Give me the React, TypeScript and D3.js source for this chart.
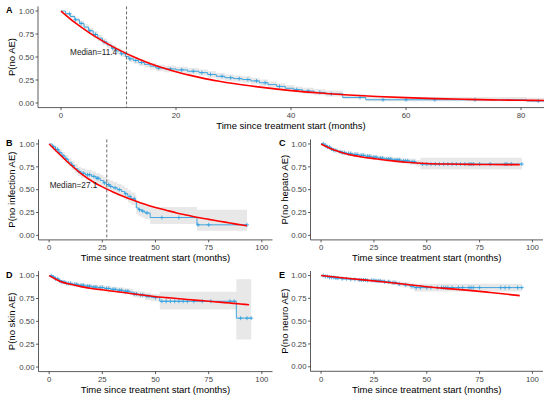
import React from 'react';
import * as d3 from 'd3';

// [time, survival, lower CI, upper CI]
type Row = [number, number, number, number];
type Pt = [number, number];

const kmA: Row[] = [
  [0, 1, 1, 1], [0.8, 0.97, 0.955, 0.985], [1.6, 0.94, 0.92, 0.96], [2.4, 0.905, 0.88, 0.93],
  [3.2, 0.865, 0.835, 0.895], [4, 0.825, 0.795, 0.855], [4.8, 0.785, 0.755, 0.815], [5.6, 0.745, 0.71, 0.78],
  [6.4, 0.705, 0.67, 0.74], [7.2, 0.665, 0.63, 0.7], [8, 0.63, 0.595, 0.665], [8.8, 0.595, 0.56, 0.63],
  [9.6, 0.565, 0.53, 0.6], [10.4, 0.535, 0.5, 0.57], [11.2, 0.505, 0.47, 0.54], [11.8, 0.48, 0.445, 0.515],
  [12.6, 0.462, 0.427, 0.497], [13.5, 0.44, 0.405, 0.475], [14.5, 0.42, 0.385, 0.455], [15.5, 0.4, 0.365, 0.435],
  [16.5, 0.38, 0.345, 0.415], [18, 0.37, 0.335, 0.405], [20, 0.36, 0.325, 0.395], [22, 0.345, 0.31, 0.38],
  [24, 0.33, 0.295, 0.365], [25.5, 0.31, 0.275, 0.345], [27, 0.29, 0.255, 0.325], [28.5, 0.275, 0.24, 0.31],
  [30, 0.265, 0.23, 0.3], [31.5, 0.255, 0.22, 0.29], [33, 0.24, 0.205, 0.275], [34.5, 0.22, 0.185, 0.255],
  [36, 0.2, 0.165, 0.235], [37.5, 0.18, 0.145, 0.215], [39, 0.16, 0.13, 0.195], [40.5, 0.145, 0.115, 0.18],
  [42, 0.13, 0.1, 0.165], [44, 0.115, 0.085, 0.15], [46, 0.1, 0.07, 0.135], [49, 0.06, 0.04, 0.095],
  [53, 0.035, 0.018, 0.065], [81, 0.022, 0.008, 0.058], [84, 0.022, 0.008, 0.058],
];
const censA = [1.5, 2.5, 3.5, 5, 6, 7.5, 9, 10.5, 12, 13, 14, 17, 19, 21, 23, 24.5, 26, 28, 29.5, 31, 32.5, 34, 35.5, 38, 41, 43, 45, 47, 52, 56, 60, 65, 72, 83];
const fitA: Pt[] = [
  [0, 1], [2.5, 0.87], [5, 0.76], [7.5, 0.665], [10, 0.58], [12.5, 0.505], [15, 0.44], [17.5, 0.385],
  [20, 0.34], [22.5, 0.3], [25, 0.265], [27.5, 0.237], [30, 0.212], [35, 0.17], [40, 0.135], [45, 0.108],
  [50, 0.087], [55, 0.071], [60, 0.058], [65, 0.048], [70, 0.04], [75, 0.034], [80, 0.03], [84, 0.027],
];

const kmB: Row[] = [
  [0, 1, 1, 1], [1.5, 0.97, 0.95, 0.99], [3, 0.94, 0.91, 0.97], [4.5, 0.905, 0.87, 0.94],
  [6, 0.87, 0.83, 0.91], [7.5, 0.835, 0.79, 0.88], [9, 0.8, 0.755, 0.845], [10.5, 0.765, 0.715, 0.815],
  [12, 0.73, 0.68, 0.78], [13.5, 0.7, 0.65, 0.75], [15, 0.68, 0.63, 0.735], [17, 0.663, 0.608, 0.718],
  [20, 0.645, 0.59, 0.7], [22, 0.625, 0.57, 0.68], [24, 0.6, 0.545, 0.66], [25.5, 0.575, 0.52, 0.635],
  [27, 0.555, 0.495, 0.615], [28.5, 0.535, 0.475, 0.6], [30, 0.52, 0.46, 0.585], [32, 0.5, 0.435, 0.565],
  [34, 0.48, 0.415, 0.545], [35.5, 0.455, 0.39, 0.52], [37, 0.425, 0.36, 0.495], [38.5, 0.4, 0.335, 0.47],
  [40.5, 0.37, 0.3, 0.44], [41, 0.3, 0.23, 0.38], [42, 0.28, 0.21, 0.36], [43.5, 0.265, 0.195, 0.345],
  [45, 0.245, 0.175, 0.325], [47.5, 0.195, 0.125, 0.31], [69.5, 0.115, 0.05, 0.28], [93, 0.115, 0.05, 0.28],
];
const censB = [2, 3, 4, 5, 6.5, 8, 11, 14, 16, 18, 19, 21, 22.5, 23, 26, 28, 29, 31, 33, 36, 38, 40, 42.5, 44, 46, 53, 61, 70, 75, 93];
const fitB: Pt[] = [
  [0, 1], [5, 0.885], [10, 0.775], [15, 0.675], [20, 0.595], [25, 0.53], [30, 0.475], [35, 0.425],
  [40, 0.38], [45, 0.34], [50, 0.305], [55, 0.275], [60, 0.245], [65, 0.22], [70, 0.195], [75, 0.175],
  [80, 0.155], [85, 0.135], [90, 0.115], [93, 0.105],
];

const kmC: Row[] = [
  [0, 1, 1, 1], [1.5, 0.985, 0.975, 0.995], [3, 0.965, 0.95, 0.98], [4.5, 0.945, 0.93, 0.96],
  [6, 0.93, 0.91, 0.95], [8, 0.915, 0.895, 0.935], [10, 0.905, 0.885, 0.925], [12, 0.895, 0.873, 0.917],
  [15, 0.885, 0.862, 0.908], [18, 0.875, 0.85, 0.9], [21, 0.865, 0.84, 0.89], [24, 0.855, 0.83, 0.88],
  [27, 0.845, 0.818, 0.872], [30, 0.835, 0.807, 0.863], [34, 0.825, 0.795, 0.855], [38, 0.815, 0.785, 0.845],
  [42, 0.805, 0.773, 0.837], [45, 0.79, 0.755, 0.825], [47, 0.78, 0.72, 0.85], [95, 0.78, 0.72, 0.85],
];
const censC = [1, 2, 3, 4, 5, 6, 7, 9, 10, 11, 13, 14, 16, 17, 19, 20, 22, 23, 25, 26, 28, 29, 31, 32, 33, 35, 36, 37, 39, 40, 41, 43, 44, 48, 50, 52, 54, 56, 58, 60, 62, 64, 66, 68, 70, 71, 72, 75, 80, 87, 88, 90, 95];
const fitC: Pt[] = [
  [0, 1], [5, 0.945], [10, 0.905], [15, 0.875], [20, 0.855], [25, 0.84], [30, 0.825], [35, 0.812],
  [40, 0.8], [45, 0.792], [50, 0.786], [60, 0.78], [70, 0.777], [80, 0.775], [94, 0.774],
];

const kmD: Row[] = [
  [0, 1, 1, 1], [1.5, 0.985, 0.975, 0.995], [3, 0.965, 0.95, 0.98], [4.5, 0.945, 0.928, 0.962],
  [6, 0.93, 0.91, 0.95], [8, 0.915, 0.895, 0.935], [11, 0.905, 0.883, 0.927], [14, 0.895, 0.872, 0.918],
  [17, 0.885, 0.86, 0.91], [20, 0.875, 0.848, 0.902], [23, 0.87, 0.842, 0.898], [26, 0.86, 0.83, 0.89],
  [29, 0.85, 0.82, 0.88], [32, 0.84, 0.808, 0.872], [35, 0.83, 0.797, 0.863], [38, 0.82, 0.785, 0.855],
  [39.5, 0.8, 0.765, 0.835], [42, 0.79, 0.752, 0.828], [45, 0.775, 0.735, 0.815], [48, 0.76, 0.72, 0.8],
  [52, 0.72, 0.63, 0.825], [88, 0.535, 0.3, 0.96], [95, 0.535, 0.3, 0.96],
];
const censD = [1, 2, 3, 4, 5, 6, 7, 8, 9, 10, 12, 13, 15, 16, 18, 19, 21, 22, 24, 25, 27, 28, 30, 31, 33, 34, 36, 37, 40, 41, 43, 44, 46, 47, 50, 53, 55, 57, 59, 61, 63, 65, 68, 72, 76, 85, 87, 90, 93, 95];
const fitD: Pt[] = [
  [0, 1], [5, 0.94], [10, 0.905], [15, 0.88], [20, 0.86], [25, 0.845], [30, 0.83], [35, 0.815],
  [40, 0.8], [45, 0.785], [50, 0.77], [55, 0.76], [60, 0.75], [65, 0.74], [70, 0.73], [75, 0.72],
  [80, 0.71], [85, 0.7], [90, 0.69], [94, 0.682],
];

const kmE: Row[] = [
  [0, 1, 1, 1], [2, 0.99, 0.983, 0.997], [4, 0.98, 0.97, 0.99], [7, 0.972, 0.96, 0.984],
  [10, 0.965, 0.952, 0.978], [14, 0.958, 0.943, 0.973], [18, 0.952, 0.935, 0.969], [22, 0.947, 0.929, 0.965],
  [26, 0.942, 0.922, 0.962], [30, 0.932, 0.91, 0.954], [33, 0.922, 0.897, 0.947], [36, 0.908, 0.881, 0.935],
  [39, 0.898, 0.87, 0.926], [42, 0.883, 0.85, 0.915], [44, 0.868, 0.825, 0.91], [95, 0.868, 0.825, 0.91],
];
const censE = [1, 2, 3, 4, 5, 6, 7, 8, 10, 12, 14, 16, 18, 19, 20, 21, 22, 24, 25, 26, 27, 28, 30, 32, 34, 35, 37, 40, 43, 45, 47, 50, 52, 55, 57, 58, 59, 60, 62, 65, 67, 70, 71, 72, 75, 85, 87, 89, 93, 95];
const fitE: Pt[] = [
  [0, 1], [10, 0.976], [20, 0.953], [30, 0.929], [40, 0.904], [50, 0.878], [60, 0.857], [70, 0.838],
  [80, 0.815], [94, 0.78],
];

const medianA = 11.4;
const medianB = 27.1;
const yTicks = [0, 0.25, 0.5, 0.75, 1];
const xTicksA = [0, 20, 40, 60, 80];
const xTicksB = [0, 25, 50, 75, 100];

const FONT = '"Liberation Sans", Arial, Helvetica, sans-serif';
const BLUE = '#2E9FDF';

interface Box { l: number; r: number; t: number; b: number; }

interface PanelProps {
  letter: string;
  box: Box;
  xDomain: [number, number];
  xTicks: number[];
  km: Row[];
  cens: number[];
  fit: Pt[];
  median?: number;
  yTitle: string;
  titleX: number;
  letterX: number;
}

function Panel({ letter, box, xDomain, xTicks, km, cens, fit, median, yTitle, titleX, letterX }: PanelProps) {
  const x = d3.scaleLinear().domain(xDomain).range([box.l, box.r]);
  const y = d3.scaleLinear().domain([-0.05, 1.05]).range([box.b, box.t]);

  const band = d3.area<Row>()
    .x((d) => x(d[0]))
    .y0((d) => y(d[2]))
    .y1((d) => y(d[3]))
    .curve(d3.curveStepAfter);
  const step = d3.line<Row>()
    .x((d) => x(d[0]))
    .y((d) => y(d[1]))
    .curve(d3.curveStepAfter);
  const smooth = d3.line<Pt>()
    .x((d) => x(d[0]))
    .y((d) => y(d[1]))
    .curve(d3.curveMonotoneX);

  // censor marks sit on the KM step at their time
  const bisect = d3.bisector((d: Row) => d[0]).right;
  const survAt = (t: number) => km[Math.max(0, bisect(km, t) - 1)][1];

  const axisColor = '#333';

  return (
    <g>
      <path d={band(km) || ''} fill="#e8e8e8" stroke="none" />
      <path d={step(km) || ''} fill="none" stroke={BLUE} strokeWidth={0.9} />
      {cens.map((c, i) => {
        const cx = x(c);
        const cy = y(survAt(c));
        return (
          <path key={i} d={`M${cx - 2},${cy}H${cx + 2}M${cx},${cy - 2}V${cy + 2}`} stroke={BLUE} strokeWidth={0.8} />
        );
      })}
      <path d={smooth(fit) || ''} fill="none" stroke="#ff0000" strokeWidth={1.6} />
      {median !== undefined && (
        <g>
          <line x1={x(median)} x2={x(median)} y1={box.t} y2={box.b} stroke="#444" strokeWidth={0.8} strokeDasharray="3,2" />
          <text x={x(median) - 9.5} y={y(0.55)} dy="0.35em" textAnchor="end" fontSize={8.2} fill="#222" fontFamily={FONT}>
            {`Median=${median}`}
          </text>
        </g>
      )}
      {/* axes */}
      <line x1={box.l} x2={box.r} y1={box.b} y2={box.b} stroke={axisColor} strokeWidth={0.8} />
      <line x1={box.l} x2={box.l} y1={box.t} y2={box.b} stroke={axisColor} strokeWidth={0.8} />
      {yTicks.map((t) => (
        <g key={t}>
          <line x1={box.l - 2.5} x2={box.l} y1={y(t)} y2={y(t)} stroke={axisColor} strokeWidth={0.8} />
          <text x={box.l - 4} y={y(t)} dy="0.35em" textAnchor="end" fontSize={7.8} fill="#444" fontFamily={FONT}>
            {d3.format('.2f')(t)}
          </text>
        </g>
      ))}
      {xTicks.map((t) => (
        <g key={t}>
          <line x1={x(t)} x2={x(t)} y1={box.b} y2={box.b + 2.5} stroke={axisColor} strokeWidth={0.8} />
          <text x={x(t)} y={box.b + 10.2} textAnchor="middle" fontSize={7.8} fill="#444" fontFamily={FONT}>
            {t}
          </text>
        </g>
      ))}
      <text x={(box.l + box.r) / 2} y={box.b + 21.5} textAnchor="middle" fontSize={9.5} fill="#000" fontFamily={FONT}>
        Time since treatment start (months)
      </text>
      <text
        transform={`translate(${titleX},${(box.t + box.b) / 2}) rotate(-90)`}
        dy="0.35em"
        textAnchor="middle"
        fontSize={9.5}
        fill="#000"
        fontFamily={FONT}
      >
        {yTitle}
      </text>
      <text x={letterX} y={box.t + 6.8} fontSize={9} fontWeight="bold" fill="#000" fontFamily={FONT}>
        {letter}
      </text>
    </g>
  );
}

export default function App() {
  return (
    <div style={{ position: 'absolute', left: 0, top: 0 }}>
      <svg width={550} height={400} style={{ display: 'block', background: '#fff' }}>
        <Panel letter="A" box={{ l: 38, r: 544, t: 6.4, b: 107.6 }} xDomain={[-4, 84]} xTicks={xTicksA}
          km={kmA} cens={censA} fit={fitA} median={medianA} yTitle="P(no AE)" titleX={11.5} letterX={6} />
        <Panel letter="B" box={{ l: 38.5, r: 272.5, t: 139.4, b: 239.9 }} xDomain={[-5, 105]} xTicks={xTicksB}
          km={kmB} cens={censB} fit={fitB} median={medianB} yTitle="P(no infection AE)" titleX={11.5} letterX={6} />
        <Panel letter="C" box={{ l: 310.5, r: 543, t: 139.4, b: 239.9 }} xDomain={[-5, 105]} xTicks={xTicksB}
          km={kmC} cens={censC} fit={fitC} yTitle="P(no hepato AE)" titleX={285} letterX={279} />
        <Panel letter="D" box={{ l: 38.5, r: 272.5, t: 271.1, b: 371.6 }} xDomain={[-5, 105]} xTicks={xTicksB}
          km={kmD} cens={censD} fit={fitD} yTitle="P(no skin AE)" titleX={11.5} letterX={6} />
        <Panel letter="E" box={{ l: 310.5, r: 543, t: 271, b: 371.3 }} xDomain={[-5, 105]} xTicks={xTicksB}
          km={kmE} cens={censE} fit={fitE} yTitle="P(no neuro AE)" titleX={285} letterX={279} />
      </svg>
    </div>
  );
}
